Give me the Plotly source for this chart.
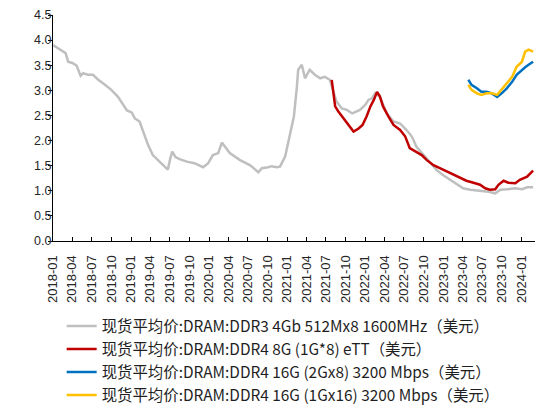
import plotly.graph_objects as go

# ---- data ----
ddr3_dates = ["2018-01-01","2018-01-25","2018-02-19","2018-03-01","2018-03-13","2018-04-04","2018-04-22",
              "2018-05-10","2018-05-22","2018-06-13","2018-07-07","2018-08-01","2018-09-01","2018-10-01",
              "2018-11-01","2018-11-25","2018-12-13","2019-01-04","2019-01-19","2019-02-10","2019-02-28",
              "2019-03-22","2019-04-13","2019-05-16","2019-06-22","2019-07-04","2019-07-13","2019-07-28",
              "2019-08-16","2019-09-19","2019-10-25","2019-12-04","2019-12-28","2020-01-19","2020-02-13",
              "2020-03-01","2020-03-16","2020-04-07","2020-05-25","2020-07-10","2020-08-19","2020-09-04",
              "2020-10-04","2020-10-19","2020-11-13","2020-11-28","2020-12-22","2021-01-16","2021-02-01",
              "2021-02-15","2021-02-21","2021-03-10","2021-03-25","2021-04-16","2021-05-10","2021-06-04",
              "2021-06-25","2021-07-19","2021-08-19","2021-09-13","2021-10-07","2021-11-01","2021-11-22",
              "2021-12-07","2022-01-01","2022-01-16","2022-02-01","2022-02-16","2022-03-10","2022-04-10",
              "2022-05-13","2022-06-13","2022-07-13","2022-08-07","2022-08-28","2022-10-01","2022-11-01",
              "2022-12-01","2023-01-01","2023-02-04","2023-03-04","2023-04-04","2023-05-07","2023-06-22",
              "2023-08-01","2023-09-01","2023-09-25","2023-10-25","2023-12-04","2024-01-04","2024-01-28",
              "2024-02-25"]
ddr3_values = [3.90,3.84,3.77,3.74,3.57,3.54,3.49,
               3.29,3.34,3.31,3.31,3.21,3.11,3.01,
               2.87,2.71,2.60,2.56,2.44,2.38,2.15,
               1.91,1.71,1.58,1.42,1.65,1.78,1.67,
               1.63,1.58,1.55,1.47,1.55,1.71,1.75,
               1.96,1.88,1.75,1.61,1.51,1.37,1.45,
               1.47,1.49,1.47,1.48,1.68,2.15,2.48,
               3.07,3.41,3.51,3.24,3.41,3.31,3.24,
               3.27,3.21,2.78,2.64,2.61,2.54,2.58,
               2.61,2.71,2.81,2.84,2.94,2.88,2.55,
               2.38,2.34,2.21,2.08,1.88,1.71,1.55,
               1.41,1.31,1.22,1.14,1.05,1.02,1.00,
               0.98,0.95,1.02,1.03,1.05,1.03,1.07,
               1.07]

ddr4_8g_dates = ["2021-07-28","2021-08-04","2021-08-13","2021-08-28","2021-09-22","2021-10-13","2021-11-07",
                 "2021-12-01","2021-12-19","2022-01-07","2022-01-25","2022-02-10","2022-02-25","2022-03-10",
                 "2022-03-25","2022-04-19","2022-05-13","2022-06-13","2022-07-07","2022-07-28","2022-08-22",
                 "2022-09-22","2022-10-16","2022-11-16","2022-12-16","2023-01-19","2023-02-19","2023-03-19",
                 "2023-04-19","2023-05-22","2023-06-22","2023-07-16","2023-08-07","2023-09-01","2023-09-16",
                 "2023-10-10","2023-11-01","2023-12-04","2023-12-25","2024-01-28","2024-02-25"]
ddr4_8g_values = [3.21,2.94,2.68,2.58,2.44,2.31,2.18,
                  2.24,2.31,2.48,2.68,2.81,2.97,2.88,
                  2.68,2.48,2.31,2.21,2.08,1.85,1.78,
                  1.71,1.61,1.51,1.45,1.38,1.31,1.25,
                  1.20,1.16,1.12,1.05,1.02,1.03,1.12,
                  1.20,1.16,1.15,1.22,1.28,1.40]

ddr4_16g_dates = ["2023-04-28","2023-05-13","2023-06-07","2023-06-28","2023-07-22","2023-08-16","2023-09-10",
                  "2023-10-01","2023-10-25","2023-11-19","2023-12-10","2024-01-04","2024-01-19","2024-02-04",
                  "2024-02-25"]
ddr4_2gx8_values = [3.21,3.11,3.04,2.97,2.97,2.94,2.87,
                    2.94,3.04,3.17,3.31,3.41,3.46,3.51,
                    3.57]
ddr4_1gx16_values = [3.11,3.01,2.94,2.91,2.94,2.94,2.91,
                     3.01,3.14,3.27,3.47,3.57,3.77,3.81,
                     3.77]

tick_dates = ["2018-01-01","2018-04-01","2018-07-01","2018-10-01","2019-01-01","2019-04-01","2019-07-01",
              "2019-10-01","2020-01-01","2020-04-01","2020-07-01","2020-10-01","2021-01-01","2021-04-01",
              "2021-07-01","2021-10-01","2022-01-01","2022-04-01","2022-07-01","2022-10-01","2023-01-01",
              "2023-04-01","2023-07-01","2023-10-01","2024-01-01"]
tick_labels = ["2018-01","2018-04","2018-07","2018-10","2019-01","2019-04","2019-07",
               "2019-10","2020-01","2020-04","2020-07","2020-10","2021-01","2021-04",
               "2021-07","2021-10","2022-01","2022-04","2022-07","2022-10","2023-01",
               "2023-04","2023-07","2023-10","2024-01"]

names = ["现货平均价:DRAM:DDR3 4Gb 512Mx8 1600MHz（美元）",
         "现货平均价:DRAM:DDR4 8G (1G*8) eTT（美元）",
         "现货平均价:DRAM:DDR4 16G (2Gx8) 3200 Mbps（美元）",
         "现货平均价:DRAM:DDR4 16G (1Gx16) 3200 Mbps（美元）"]
colors = ["#BFBFBF", "#C00000", "#0070C0", "#FFC000"]

series = [(ddr3_dates, ddr3_values), (ddr4_8g_dates, ddr4_8g_values),
          (ddr4_16g_dates, ddr4_2gx8_values), (ddr4_16g_dates, ddr4_1gx16_values)]

fig = go.Figure()
for i, ((xs, ys), name, color) in enumerate(zip(series, names, colors)):
    fig.add_trace(go.Scatter(x=xs, y=ys, mode="lines", name=name,
                             legendgroup=f"g{i}",
                             line=dict(color=color, width=2.5)))

fig.update_layout(
    width=541, height=408,
    margin=dict(l=53, r=6, t=15, b=167, autoexpand=False),
    paper_bgcolor="white", plot_bgcolor="white",
    font=dict(family="Liberation Sans, Arial, sans-serif", color="#262626"),
    showlegend=True,
    legend=dict(
        x=0.018, y=-0.303, xanchor="left", yanchor="top",
        orientation="v", tracegroupgap=0,
        font=dict(family="Noto Sans CJK SC, sans-serif", size=15.4, color="#1f1f1f"),
        bgcolor="rgba(0,0,0,0)",
    ),
)
fig.update_xaxes(
    type="date", range=["2018-01-01", "2024-03-05"],
    tickmode="array", tickvals=tick_dates, ticktext=tick_labels,
    tickangle=-90, tickfont=dict(size=13, color="#262626"),
    showline=True, linecolor="#000000", linewidth=1,
    ticks="inside", ticklen=4, tickcolor="#000000",
    ticklabelstandoff=8, automargin=False,
    showgrid=False, zeroline=False,
)
fig.update_yaxes(
    range=[0, 4.5], dtick=0.5, tick0=0, tickformat=".1f",
    tickfont=dict(size=12.5, color="#262626"),
    showline=True, linecolor="#000000", linewidth=1,
    ticks="outside", ticklen=4, tickcolor="#000000",
    ticklabelstandoff=-6, automargin=False,
    showgrid=False, zeroline=False,
)

fig.write_html("out.html",
               config={"displayModeBar": False},
               post_script="document.body.style.margin='0';document.body.style.padding='0';")
